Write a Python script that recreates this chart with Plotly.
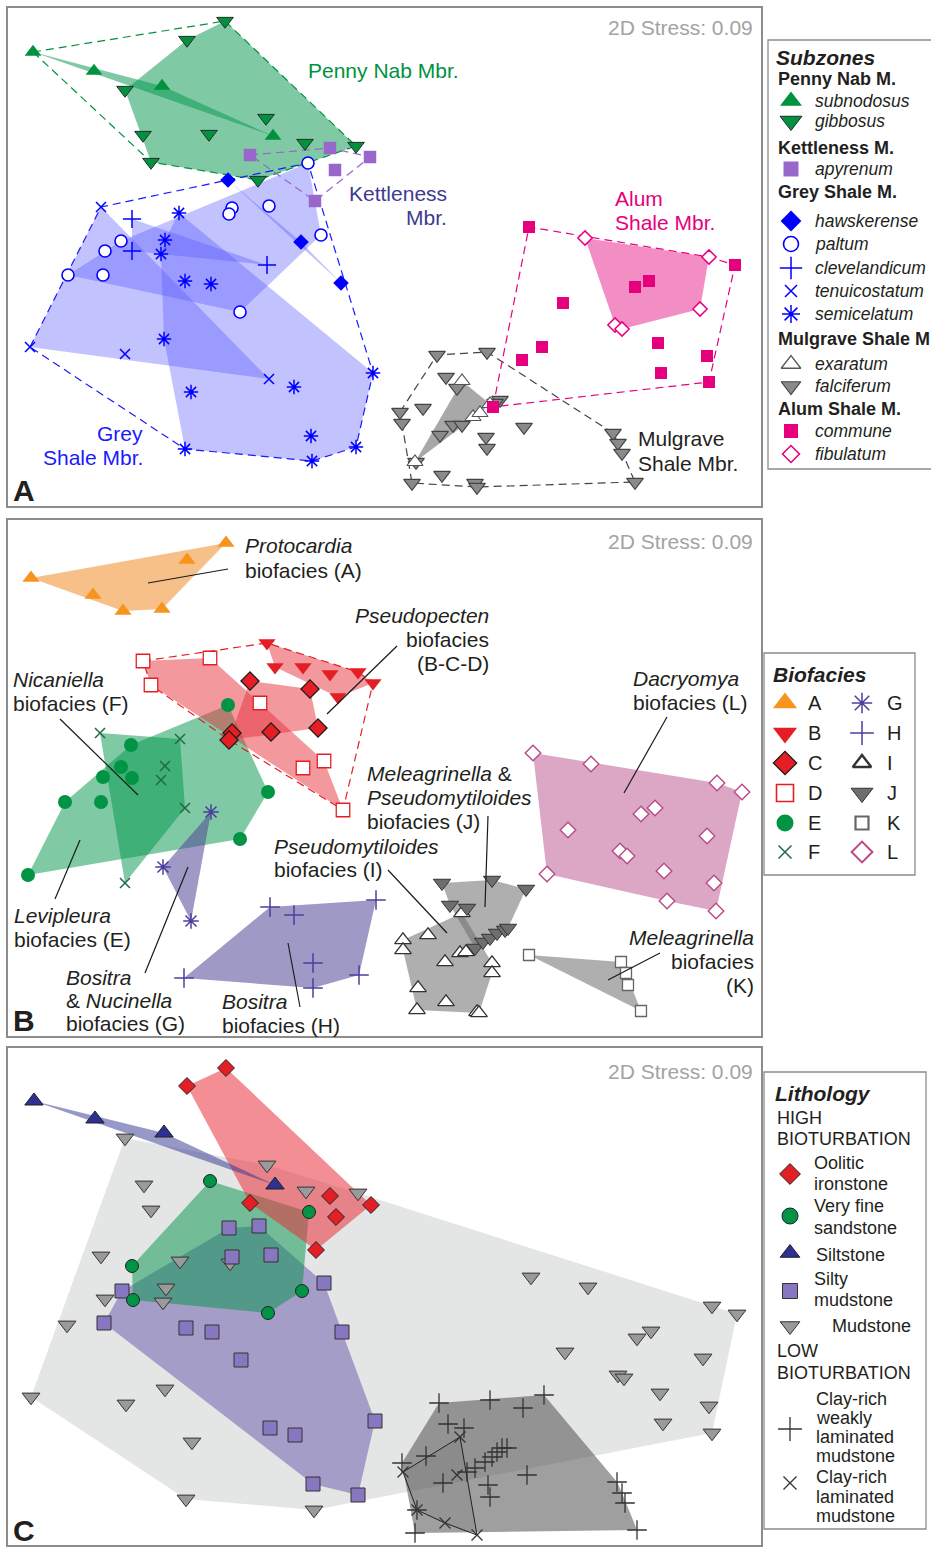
import plotly.graph_objects as go

W, H = 931, 1548
FONT = "Liberation Sans, Arial, sans-serif"
TXT = "#231f20"

# ---------------- DATA (ordination scores, picture pixel units) -------------
# Panel A - ammonite subzones
a_subnodosus = [(33, 52), (94, 71), (162, 86), (273, 136)]
a_gibbosus = [(225, 21), (187, 40), (125, 90), (143, 135), (151, 162), (209, 134), (266, 118),
              (305, 143), (356, 146), (258, 180)]
a_apyrenum = [(250, 155), (330, 148), (370, 157), (335, 170), (315, 201)]
a_hawskerense = [(228, 180), (301, 242), (341, 283)]
a_paltum = [(308, 163), (232, 208), (229, 214), (269, 206), (321, 235), (121, 241), (105, 251),
            (68, 275), (103, 275), (240, 312)]
a_clevelandicum = [(132, 219), (132, 251), (267, 265)]
a_tenuicostatum = [(101, 207), (30, 347), (125, 354), (269, 379)]
a_semicelatum = [(179, 213), (165, 240), (161, 254), (185, 281), (211, 284), (164, 339), (373, 373),
                 (294, 387), (191, 392), (311, 436), (356, 447), (185, 449), (312, 461)]
a_exaratum = [(462, 381), (473, 417), (480, 413), (490, 404), (415, 462)]
a_falciferum = [(437, 355), (487, 352), (446, 377), (457, 388), (423, 408), (400, 412), (402, 423),
                (500, 400), (495, 403), (453, 425), (462, 425), (440, 435), (486, 437), (487, 448),
                (524, 427), (613, 433), (618, 443), (622, 453), (416, 462), (442, 475), (412, 483),
                (475, 483), (477, 487), (635, 482)]
a_commune = [(529, 227), (735, 265), (635, 287), (649, 281), (563, 303), (542, 347), (522, 360),
             (658, 343), (707, 356), (661, 373), (709, 382), (493, 407)]
a_fibulatum = [(585, 238), (709, 257), (700, 309), (615, 325), (622, 329)]

# Panel B - biofacies
b_A = [(31, 578), (93, 595), (123, 611), (162, 609), (187, 560), (226, 543)]
b_B = [(267, 643), (275, 667), (303, 667), (330, 674), (358, 672), (338, 697), (373, 683)]
b_C = [(250, 681), (310, 689), (318, 728), (271, 732), (232, 733), (229, 740)]
b_D = [(143, 661), (210, 658), (151, 685), (260, 703), (303, 768), (324, 761), (343, 810)]
b_E = [(228, 705), (131, 745), (121, 767), (132, 778), (103, 777), (65, 802), (101, 802),
       (268, 792), (240, 839), (28, 875)]
b_F = [(100, 733), (180, 739), (165, 766), (161, 780), (185, 808), (125, 883)]
b_G = [(211, 812), (163, 867), (191, 921)]
b_H = [(270, 907), (294, 915), (376, 900), (184, 978), (313, 963), (313, 988), (359, 975)]
b_I = [(403, 940), (403, 950), (428, 935), (445, 962), (460, 953), (466, 952), (462, 913),
       (492, 963), (492, 973), (418, 988), (446, 1002), (417, 1010), (477, 1012), (479, 1013)]
b_J = [(442, 883), (492, 880), (526, 889), (450, 905), (467, 908), (475, 948), (483, 942),
       (490, 938), (497, 933), (505, 930), (508, 928)]
b_K = [(529, 955), (621, 962), (626, 973), (628, 985), (641, 1011)]
b_L = [(533, 753), (591, 764), (717, 783), (742, 792), (655, 808), (641, 814), (568, 830),
       (707, 836), (620, 851), (627, 856), (664, 871), (547, 874), (714, 883), (667, 901), (716, 911)]

# Panel C - lithology
c_oolitic = [(187, 1086), (226, 1068), (250, 1203), (330, 1196), (336, 1217), (371, 1205), (316, 1250)]
c_sandstone = [(210, 1181), (309, 1212), (132, 1266), (302, 1291), (133, 1300), (268, 1313)]
c_siltstone = [(34, 1101), (95, 1119), (164, 1133), (275, 1185)]
c_silty = [(229, 1228), (259, 1226), (232, 1257), (271, 1255), (324, 1283), (122, 1291), (104, 1323),
           (186, 1328), (212, 1332), (241, 1360), (342, 1332), (375, 1421), (270, 1428), (295, 1435),
           (313, 1484), (358, 1495)]
c_mudstone = [(125, 1138), (144, 1185), (151, 1210), (101, 1256), (180, 1261), (230, 1263), (267, 1165),
              (306, 1191), (358, 1193), (105, 1299), (166, 1288), (163, 1302), (67, 1325), (31, 1397),
              (126, 1404), (165, 1389), (192, 1442), (186, 1499), (314, 1510), (531, 1277), (588, 1287),
              (712, 1306), (737, 1314), (637, 1338), (651, 1331), (565, 1352), (703, 1358), (618, 1375),
              (624, 1378), (660, 1393), (709, 1406), (663, 1423), (712, 1433)]
c_clay_weak = [(439, 1403), (490, 1400), (523, 1408), (544, 1395), (448, 1424), (464, 1428), (402, 1463),
               (426, 1456), (443, 1483), (467, 1472), (475, 1468), (485, 1462), (492, 1457), (497, 1452),
               (502, 1448), (507, 1448), (527, 1475), (488, 1485), (490, 1497), (617, 1482), (622, 1493),
               (625, 1503), (637, 1530), (415, 1533), (417, 1510)]
c_clay_lam = [(403, 1472), (460, 1437), (457, 1475), (417, 1510), (445, 1523), (477, 1535)]

# ---------------- STYLES ----------------
def sty(symbol, color, size, lc=None, lw=0):
    return dict(symbol=symbol, color=color, size=size, line=dict(color=lc or color, width=lw))

GREEN, BLUE, PINK, PURP = "#00923f", "#0000ff", "#e6007e", "#9966cc"
S = {
    'subnodosus': sty('triangle-up', GREEN, 14.5),
    'gibbosus': sty('triangle-down', GREEN, 14.5, '#2b2b2b', 1),
    'apyrenum': sty('square', PURP, 12.5),
    'hawskerense': sty('diamond', BLUE, 12),
    'paltum': sty('circle', 'white', 12, BLUE, 1.6),
    'clevelandicum': sty('cross-thin-open', BLUE, 13, BLUE, 1.5),
    'tenuicostatum': sty('x-thin-open', BLUE, 10, BLUE, 1.5),
    'semicelatum': sty('asterisk-open', BLUE, 12, BLUE, 1.5),
    'exaratum': sty('triangle-up', 'white', 14, '#555555', 1.2),
    'falciferum': sty('triangle-down', '#8a8a8a', 14.5, '#444444', 1.2),
    'commune': sty('square', PINK, 12),
    'fibulatum': sty('diamond', 'white', 11, PINK, 1.5),
    'A': sty('triangle-up', '#f7941d', 15),
    'B': sty('triangle-down', '#e31e24', 15),
    'C': sty('diamond', '#e31e24', 14, '#1a1a1a', 1.2),
    'D': sty('square', 'white', 13.5, '#e31e24', 1.3),
    'E': sty('circle', '#009444', 14),
    'F': sty('x-thin-open', '#1f6b45', 10, '#1f6b45', 1.5),
    'G': sty('asterisk-open', '#4b3f9e', 13, '#4b3f9e', 1.5),
    'H': sty('cross-thin-open', '#4b3f9e', 14, '#4b3f9e', 1.5),
    'I': sty('triangle-up', 'white', 14.5, '#333333', 1.3),
    'J': sty('triangle-down', '#6e6e6e', 15, '#333333', 1),
    'K': sty('square', 'white', 11, '#666666', 1.3),
    'L': sty('diamond', 'white', 12, '#b94a86', 1.4),
    'oolitic': sty('diamond', '#e31e24', 13, '#222222', 1),
    'sandstone': sty('circle', '#009444', 13, '#222222', 1),
    'siltstone': sty('triangle-up', '#2e3192', 16, '#222222', 1),
    'silty': sty('square', '#8677c0', 14, '#333333', 1),
    'mudstone': sty('triangle-down', '#9a9a9a', 15.5, '#333333', 1),
    'clay_weak': sty('cross-thin-open', '#333333', 14, '#333333', 1.3),
    'clay_lam': sty('x-thin-open', '#333333', 11, '#333333', 1.3),
}
# slightly heavier outlines for the legend swatches
LEG_LW = {'I': 2.4, 'K': 2.2, 'L': 2.0, 'D': 1.6, 'exaratum': 1.3, 'fibulatum': 1.6}

# ---------------- HELPERS ----------------
def hull(points):
    pts = sorted(set(points))
    if len(pts) < 3:
        return pts

    def cross(o, a, b):
        return (a[0] - o[0]) * (b[1] - o[1]) - (a[1] - o[1]) * (b[0] - o[0])
    lower, upper = [], []
    for p in pts:
        while len(lower) >= 2 and cross(lower[-2], lower[-1], p) <= 0:
            lower.pop()
        lower.append(p)
    for p in reversed(pts):
        while len(upper) >= 2 and cross(upper[-2], upper[-1], p) <= 0:
            upper.pop()
        upper.append(p)
    return lower[:-1] + upper[:-1]


fig = go.Figure()
AX = {'A': ('x', 'y'), 'B': ('x2', 'y2'), 'C': ('x3', 'y3'), 'L': ('x4', 'y4')}


def add_fill(pts, color, p, outline=None):
    h = hull(pts)
    h = h + [h[0]]
    fig.add_trace(go.Scatter(
        x=[q[0] for q in h], y=[q[1] for q in h], mode='lines', fill='toself', fillcolor=color,
        line=dict(width=outline[1] if outline else 0, color=outline[0] if outline else 'rgba(0,0,0,0)'),
        hoverinfo='skip', xaxis=AX[p][0], yaxis=AX[p][1]))


def add_dashed(pts, color, p):
    h = hull(pts)
    h = h + [h[0]]
    fig.add_trace(go.Scatter(
        x=[q[0] for q in h], y=[q[1] for q in h], mode='lines',
        line=dict(color=color, width=1.2, dash='8px,5px'), hoverinfo='skip',
        xaxis=AX[p][0], yaxis=AX[p][1]))


def add_pts(pts, key, p, size=None, xs=None, ys=None, lw=None):
    st = dict(S[key])
    st['line'] = dict(st['line'])
    if size:
        st['size'] = size
    if lw:
        st['line']['width'] = lw
    fig.add_trace(go.Scatter(
        x=xs if xs is not None else [q[0] for q in pts],
        y=ys if ys is not None else [q[1] for q in pts],
        mode='markers', marker=st, hoverinfo='skip', cliponaxis=False,
        xaxis=AX[p][0], yaxis=AX[p][1]))


# ---------------- PANEL A ----------------
PN_FILL = 'rgba(0,150,75,0.5)'
GS_FILL = 'rgba(85,85,255,0.36)'
add_fill(a_gibbosus, PN_FILL, 'A')
add_fill(a_subnodosus, PN_FILL, 'A')
for g in (a_tenuicostatum, a_paltum, a_semicelatum, a_clevelandicum, a_hawskerense):
    add_fill(g, GS_FILL, 'A')
add_fill(a_exaratum, 'rgba(110,110,110,0.6)', 'A')
add_fill(a_fibulatum, 'rgba(232,30,140,0.5)', 'A')

add_dashed(a_subnodosus + a_gibbosus, GREEN, 'A')
add_dashed(a_apyrenum, PURP, 'A')
add_dashed(a_hawskerense + a_paltum + a_clevelandicum + a_tenuicostatum + a_semicelatum, '#1a1aff', 'A')
add_dashed(a_exaratum + a_falciferum, '#444444', 'A')
add_dashed(a_commune + a_fibulatum, PINK, 'A')

for key, g in [('gibbosus', a_gibbosus), ('subnodosus', a_subnodosus), ('apyrenum', a_apyrenum),
               ('semicelatum', a_semicelatum), ('tenuicostatum', a_tenuicostatum),
               ('clevelandicum', a_clevelandicum), ('paltum', a_paltum), ('hawskerense', a_hawskerense),
               ('falciferum', a_falciferum), ('exaratum', a_exaratum), ('commune', a_commune),
               ('fibulatum', a_fibulatum)]:
    add_pts(g, key, 'A')

# ---------------- PANEL B ----------------
RED_FILL = 'rgba(232,50,60,0.5)'
add_fill(b_A, 'rgba(242,140,40,0.55)', 'B')
add_fill(b_E, 'rgba(0,150,75,0.5)', 'B')
add_fill(b_F, 'rgba(0,150,75,0.5)', 'B')
add_fill(b_G, 'rgba(80,70,150,0.55)', 'B')
add_fill(b_H, 'rgba(80,70,150,0.55)', 'B')
add_fill(b_D, RED_FILL, 'B')
add_fill(b_C, RED_FILL, 'B')
add_fill(b_B, RED_FILL, 'B')
add_fill(b_I, 'rgba(110,110,110,0.55)', 'B')
add_fill(b_J, 'rgba(110,110,110,0.55)', 'B')
add_fill(b_K, 'rgba(110,110,110,0.55)', 'B')
add_fill(b_L, 'rgba(190,95,150,0.55)', 'B')
add_dashed(b_B + b_C + b_D, '#e31e24', 'B')
for key, g in [('A', b_A), ('E', b_E), ('F', b_F), ('G', b_G), ('H', b_H), ('D', b_D), ('C', b_C),
               ('B', b_B), ('I', b_I), ('J', b_J), ('K', b_K), ('L', b_L)]:
    add_pts(g, key, 'B')

# ---------------- PANEL C ----------------
add_fill(c_mudstone, 'rgba(195,198,198,0.45)', 'C')
add_fill(c_clay_weak, 'rgba(80,80,80,0.55)', 'C')
add_fill(c_clay_lam, 'rgba(80,80,80,0.12)', 'C', outline=('#222222', 1))
add_fill(c_silty, 'rgba(100,85,170,0.5)', 'C')
add_fill(c_sandstone, 'rgba(0,150,75,0.5)', 'C')
add_fill(c_oolitic, 'rgba(232,50,60,0.55)', 'C')
add_fill(c_siltstone, 'rgba(46,49,146,0.5)', 'C')
for key, g in [('mudstone', c_mudstone), ('clay_weak', c_clay_weak), ('clay_lam', c_clay_lam),
               ('silty', c_silty), ('sandstone', c_sandstone), ('oolitic', c_oolitic),
               ('siltstone', c_siltstone)]:
    add_pts(g, key, 'C')

# ---------------- TEXT ----------------
ann = []
shapes = []


def text(p, x, y, s, size=21, color=TXT, anchor='left'):
    ann.append(dict(x=x, y=y, xref=AX[p][0], yref=AX[p][1], text=s, showarrow=False,
                    xanchor=anchor, yanchor='middle', borderpad=0,
                    font=dict(family=FONT, size=size, color=color)))


def block(p, x, ys, lines, color=TXT, anchor='left', size=21):
    for yy, s in zip(ys, lines):
        text(p, x, yy, s, size=size, color=color, anchor=anchor)


def leader(p, x0, y0, x1, y1):
    shapes.append(dict(type='line', xref=AX[p][0], yref=AX[p][1], x0=x0, y0=y0, x1=x1, y1=y1,
                       line=dict(color='#1a1a1a', width=1.2)))


# panel A labels
text('A', 307, 70, 'Penny Nab Mbr.', color='#00923f')
block('A', 448, [193, 217], ['Kettleness', 'Mbr.'], color='#3d3a91', anchor='right')
block('A', 614, [198, 222], ['Alum', 'Shale Mbr.'], color=PINK)
block('A', 144, [433, 457], ['Grey', 'Shale Mbr.'], color='#1a1aff', anchor='right')
block('A', 637, [438, 463], ['Mulgrave', 'Shale Mbr.'])
for p, y in [('A', 27), ('B', 541), ('C', 1071)]:
    text(p, 754, y, '2D Stress: 0.09', color='#a3a3a3', anchor='right')
for p, y in [('A', 490), ('B', 1020), ('C', 1530)]:
    text(p, 12, y, '<b>%s</b>' % p, size=30)

# panel B labels
block('B', 244, [545, 570], ['<i>Protocardia</i>', 'biofacies (A)'])
leader('B', 148, 583, 228, 569)
block('B', 490, [615, 639, 663], ['<i>Pseudopecten</i>', 'biofacies', '(B-C-D)'], anchor='right')
leader('B', 327, 714, 397, 646)
block('B', 12, [679, 703], ['<i>Nicaniella</i>', 'biofacies (F)'])
leader('B', 60, 719, 138, 795)
block('B', 13, [915, 939], ['<i>Levipleura</i>', 'biofacies (E)'])
leader('B', 55, 899, 80, 840)
block('B', 65, [977, 1000, 1023], ['<i>Bositra</i>', '& <i>Nucinella</i>', 'biofacies (G)'])
leader('B', 145, 973, 188, 867)
block('B', 221, [1001, 1025], ['<i>Bositra</i>', 'biofacies (H)'])
leader('B', 300, 1007, 288, 943)
block('B', 273, [846, 869], ['<i>Pseudomytiloides</i>', 'biofacies (I)'])
leader('B', 388, 870, 447, 933)
block('B', 366, [773, 797, 821], ['<i>Meleagrinella</i> &', '<i>Pseudomytiloides</i>', 'biofacies (J)'])
leader('B', 488, 816, 485, 907)
block('B', 632, [678, 702], ['<i>Dacryomya</i>', 'biofacies (L)'])
leader('B', 667, 717, 624, 793)
block('B', 755, [937, 961, 985], ['<i>Meleagrinella</i>', 'biofacies', '(K)'], anchor='right')
leader('B', 660, 953, 608, 980)

# ---------------- LEGENDS (drawn on an overlay axis in page pixels) ----------------
for x0, y0, x1, y1 in [(768, 40, 945, 469), (764, 653, 915, 875), (764, 1072, 926, 1529)]:
    shapes.append(dict(type='rect', xref='x4', yref='y4', x0=x0, y0=y0, x1=x1, y1=y1,
                       line=dict(color='#8c8c8c', width=1.3), fillcolor='rgba(0,0,0,0)'))

# legend A
text('L', 775, 57, '<b><i>Subzones</i></b>', size=21)
legA_heads = [('Penny Nab M.', 79), ('Kettleness M.', 148), ('Grey Shale M.', 192),
              ('Mulgrave Shale M', 339), ('Alum Shale M.', 409)]
for s, y in legA_heads:
    text('L', 777, y, '<b>%s</b>' % s, size=18)
legA_items = [('subnodosus', 101, 19), ('gibbosus', 121, 19), ('apyrenum', 169, 15),
              ('hawskerense', 221, 16), ('paltum', 244, 15), ('clevelandicum', 268, 16),
              ('tenuicostatum', 291, 12), ('semicelatum', 314, 15), ('exaratum', 364, 17),
              ('falciferum', 386, 17), ('commune', 431, 14), ('fibulatum', 454, 13)]
for key, y, sz in legA_items:
    add_pts(None, key, 'L', size=sz, xs=[791], ys=[y], lw=LEG_LW.get(key))
    text('L', 814, y, '<i>%s</i>' % key, size=17.5)

# legend B
text('L', 772, 674, '<b><i>Biofacies</i></b>', size=21)
legB_rows = [703, 733, 763, 793, 823, 852]
legB_sizes = {'A': 21, 'B': 21, 'C': 18, 'D': 17, 'E': 17, 'F': 13,
              'G': 17, 'H': 17, 'I': 16, 'J': 19, 'K': 13, 'L': 16}
for col, keys, mx, tx in [(0, 'ABCDEF', 785, 807), (1, 'GHIJKL', 862, 886)]:
    for k, y in zip(keys, legB_rows):
        add_pts(None, k, 'L', size=legB_sizes[k], xs=[mx], ys=[y], lw=LEG_LW.get(k))
        text('L', tx, y, k, size=20)

# legend C
text('L', 774, 1093, '<b><i>Lithology</i></b>', size=21)
block('L', 776, [1118, 1139], ['HIGH', 'BIOTURBATION'], size=18)
block('L', 776, [1351, 1373], ['LOW', 'BIOTURBATION'], size=18)
legC_items = [('oolitic', 1174, 16, 813, [1163, 1184], ['Oolitic', 'ironstone']),
              ('sandstone', 1216, 16, 813, [1206, 1228], ['Very fine', 'sandstone']),
              ('siltstone', 1253, 17, 815, [1255], ['Siltstone']),
              ('silty', 1291, 15, 813, [1279, 1300], ['Silty', 'mudstone']),
              ('mudstone', 1326, 17, 831, [1326], ['Mudstone']),
              ('clay_weak', 1429, 17, 815, [1399, 1418, 1437, 1456],
               ['Clay-rich', 'weakly', 'laminated', 'mudstone']),
              ('clay_lam', 1483, 13, 815, [1477, 1497, 1516], ['Clay-rich', 'laminated', 'mudstone'])]
for key, my, sz, tx, tys, lines in legC_items:
    add_pts(None, key, 'L', size=sz, xs=[790], ys=[my])
    block('L', tx, tys, lines, size=18)

# ---------------- LAYOUT ----------------
def axis_pair(xr, yr):
    base = dict(showgrid=False, zeroline=False, showticklabels=False, ticks='', showline=True,
                mirror=True, linecolor='#8c8c8c', linewidth=1.5, fixedrange=True)
    xa = dict(base, domain=[xr[0] / W, xr[1] / W], range=[xr[0], xr[1]])
    ya = dict(base, domain=[1 - yr[1] / H, 1 - yr[0] / H], range=[yr[1], yr[0]])
    return xa, ya


xa1, ya1 = axis_pair((8, 761), (8, 506))
xa2, ya2 = axis_pair((8, 761), (520, 1036))
xa3, ya3 = axis_pair((8, 761), (1048, 1545))
xa1['anchor'], ya1['anchor'] = 'y', 'x'
xa2['anchor'], ya2['anchor'] = 'y2', 'x2'
xa3['anchor'], ya3['anchor'] = 'y3', 'x3'
xa4 = dict(domain=[0, 1], range=[0, W], visible=False, anchor='y4', fixedrange=True)
ya4 = dict(domain=[0, 1], range=[H, 0], visible=False, anchor='x4', fixedrange=True)

fig.update_layout(
    width=W, height=H, margin=dict(l=0, r=0, t=0, b=0),
    paper_bgcolor='white', plot_bgcolor='rgba(0,0,0,0)', showlegend=False,
    xaxis=xa1, yaxis=ya1, xaxis2=xa2, yaxis2=ya2, xaxis3=xa3, yaxis3=ya3,
    xaxis4=xa4, yaxis4=ya4, annotations=ann, shapes=shapes,
    font=dict(family=FONT, color=TXT),
)

fig.write_html("out.html", config={'displayModeBar': False},
               post_script="document.body.style.margin='0px';document.body.style.overflow='hidden';")
